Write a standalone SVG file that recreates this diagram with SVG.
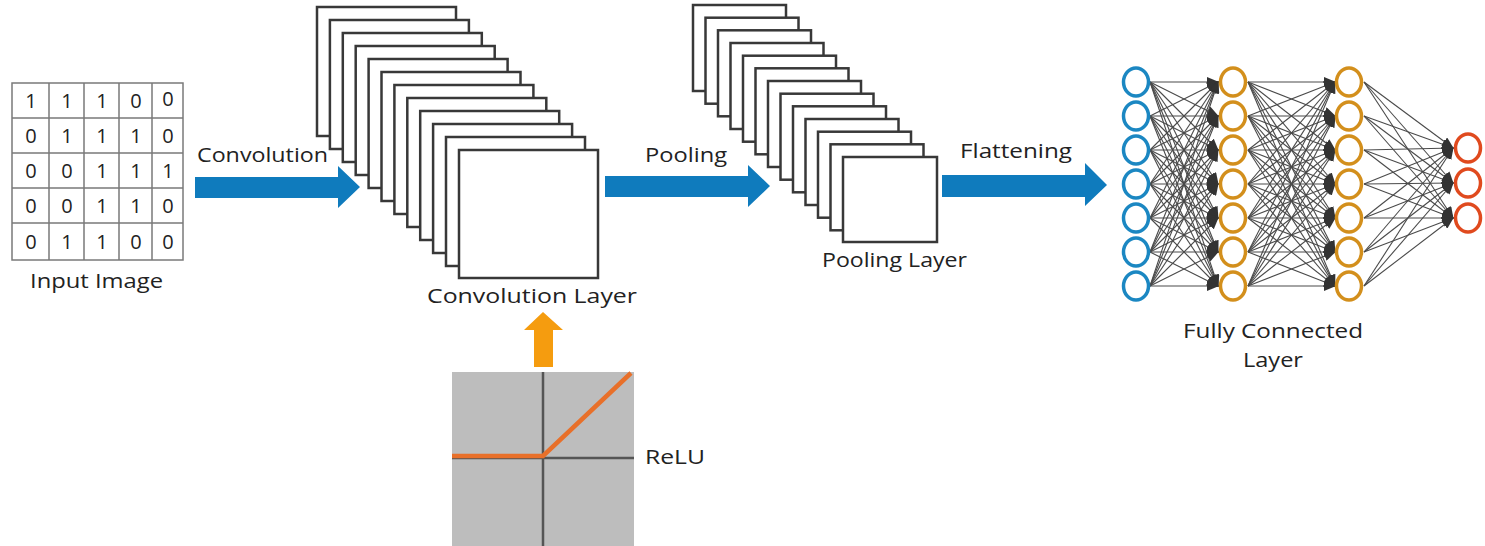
<svg xmlns="http://www.w3.org/2000/svg" width="1485" height="546" viewBox="0 0 1485 546">
<style>
text{font-family:"Open Sans","DejaVu Sans",sans-serif;font-size:20px;fill:#222;}
.d{text-anchor:middle;}
.grid{fill:none;stroke:#7a7a7a;stroke-width:1.5;}
.fm{fill:#fff;stroke:#383838;stroke-width:2.5;}
.blue{fill:#0f7bbd;}
.nb{fill:#fff;stroke:#1b87c2;stroke-width:3.5;}
.no{fill:#fff;stroke:#d38f1c;stroke-width:3.5;}
.nr{fill:#fff;stroke:#e04a1e;stroke-width:3.5;}
.ln{stroke:#4a4a4a;stroke-width:1.1;fill:none;marker-end:url(#ah);}
</style>
<defs>
<marker id="ah" markerUnits="userSpaceOnUse" markerWidth="12" markerHeight="10" refX="11" refY="5" orient="auto" viewBox="0 0 12 10">
<path d="M0,0 L12,5 L0,10 Z" fill="#333"/>
</marker>
</defs>
<rect width="1485" height="546" fill="#fff"/>

<g id="input-image">
<rect class="grid" x="12" y="83" width="171" height="177"/>
<path class="grid" d="M49,83V260M84,83V260M119,83V260M152,83V260M12,118H183M12,153H183M12,188H183M12,223H183"/>
<g class="d">
<text x="31" y="108">1</text><text x="67" y="108">1</text><text x="102" y="108">1</text><text x="136" y="108">0</text><text x="168" y="106">0</text>
<text x="31" y="143">0</text><text x="67" y="143">1</text><text x="102" y="143">1</text><text x="136" y="143">1</text><text x="168" y="143">0</text>
<text x="31" y="178">0</text><text x="67" y="178">0</text><text x="102" y="178">1</text><text x="136" y="178">1</text><text x="168" y="178">1</text>
<text x="31" y="213">0</text><text x="67" y="213">0</text><text x="102" y="213">1</text><text x="136" y="213">1</text><text x="168" y="213">0</text>
<text x="31" y="249">0</text><text x="67" y="249">1</text><text x="102" y="249">1</text><text x="136" y="249">0</text><text x="168" y="249">0</text>
</g>
<text x="30" y="288" textLength="133" lengthAdjust="spacingAndGlyphs">Input Image</text>
</g>

<g id="convolution-layer">
<rect class="fm" x="317" y="7" width="139" height="129"/>
<rect class="fm" x="329.9" y="20" width="139" height="129"/>
<rect class="fm" x="342.8" y="33" width="139" height="129"/>
<rect class="fm" x="355.7" y="46" width="139" height="129"/>
<rect class="fm" x="368.6" y="59" width="139" height="129"/>
<rect class="fm" x="381.5" y="72" width="139" height="129"/>
<rect class="fm" x="394.4" y="85" width="139" height="129"/>
<rect class="fm" x="407.3" y="98" width="139" height="129"/>
<rect class="fm" x="420.2" y="111" width="139" height="129"/>
<rect class="fm" x="433.1" y="124" width="139" height="129"/>
<rect class="fm" x="446" y="137" width="139" height="129"/>
<rect class="fm" x="459" y="150" width="139" height="128"/>
<text x="427" y="303" textLength="210" lengthAdjust="spacingAndGlyphs">Convolution Layer</text>
</g>

<g id="pooling-layer">
<rect class="fm" x="693" y="5" width="93" height="86"/>
<rect class="fm" x="705.5" y="17.7" width="93" height="86"/>
<rect class="fm" x="718" y="30.3" width="93" height="86"/>
<rect class="fm" x="730.5" y="43" width="93" height="86"/>
<rect class="fm" x="743" y="55.7" width="93" height="86"/>
<rect class="fm" x="755.5" y="68.3" width="93" height="86"/>
<rect class="fm" x="768" y="81" width="93" height="86"/>
<rect class="fm" x="780.5" y="93.7" width="93" height="86"/>
<rect class="fm" x="793" y="106.3" width="93" height="86"/>
<rect class="fm" x="805.5" y="119" width="93" height="86"/>
<rect class="fm" x="818" y="131.7" width="93" height="86"/>
<rect class="fm" x="830.5" y="144.3" width="93" height="86"/>
<rect class="fm" x="843" y="157" width="94" height="85"/>
<text x="822" y="267" textLength="145" lengthAdjust="spacingAndGlyphs">Pooling Layer</text>
</g>

<g id="relu">
<rect x="452" y="372" width="182" height="174" fill="#bdbdbd"/>
<path d="M543,372V546M452,458H634" stroke="#555" stroke-width="2.5" fill="none"/>
<polyline points="452,456 543,456 631,373" fill="none" stroke="#e8702a" stroke-width="4.5"/>
<text x="645" y="464" textLength="60" lengthAdjust="spacingAndGlyphs">ReLU</text>
</g>

<g id="connectors">
<polygon class="blue" points="195,177 338,177 338,166 360,187 338,208 338,198 195,198"/>
<polygon class="blue" points="605,176 748,176 748,165 770,186 748,207 748,197 605,197"/>
<polygon class="blue" points="942,175 1085,175 1085,163 1107,185 1085,206 1085,197 942,197"/>
<polygon points="534,367 534,330 524,330 543,312 563,330 553,330 553,367" fill="#f59c0f"/>
<g id="nn-edges">
<path class="ln" d="M1150,82L1218,82"/><path class="ln" d="M1150,82L1218,116"/><path class="ln" d="M1150,82L1218,150"/><path class="ln" d="M1150,82L1218,184"/><path class="ln" d="M1150,82L1218,218"/><path class="ln" d="M1150,82L1218,252"/><path class="ln" d="M1150,82L1218,286"/>
<path class="ln" d="M1150,116L1218,82"/><path class="ln" d="M1150,116L1218,116"/><path class="ln" d="M1150,116L1218,150"/><path class="ln" d="M1150,116L1218,184"/><path class="ln" d="M1150,116L1218,218"/><path class="ln" d="M1150,116L1218,252"/><path class="ln" d="M1150,116L1218,286"/>
<path class="ln" d="M1150,150L1218,82"/><path class="ln" d="M1150,150L1218,116"/><path class="ln" d="M1150,150L1218,150"/><path class="ln" d="M1150,150L1218,184"/><path class="ln" d="M1150,150L1218,218"/><path class="ln" d="M1150,150L1218,252"/><path class="ln" d="M1150,150L1218,286"/>
<path class="ln" d="M1150,184L1218,82"/><path class="ln" d="M1150,184L1218,116"/><path class="ln" d="M1150,184L1218,150"/><path class="ln" d="M1150,184L1218,184"/><path class="ln" d="M1150,184L1218,218"/><path class="ln" d="M1150,184L1218,252"/><path class="ln" d="M1150,184L1218,286"/>
<path class="ln" d="M1150,218L1218,82"/><path class="ln" d="M1150,218L1218,116"/><path class="ln" d="M1150,218L1218,150"/><path class="ln" d="M1150,218L1218,184"/><path class="ln" d="M1150,218L1218,218"/><path class="ln" d="M1150,218L1218,252"/><path class="ln" d="M1150,218L1218,286"/>
<path class="ln" d="M1150,252L1218,82"/><path class="ln" d="M1150,252L1218,116"/><path class="ln" d="M1150,252L1218,150"/><path class="ln" d="M1150,252L1218,184"/><path class="ln" d="M1150,252L1218,218"/><path class="ln" d="M1150,252L1218,252"/><path class="ln" d="M1150,252L1218,286"/>
<path class="ln" d="M1150,286L1218,82"/><path class="ln" d="M1150,286L1218,116"/><path class="ln" d="M1150,286L1218,150"/><path class="ln" d="M1150,286L1218,184"/><path class="ln" d="M1150,286L1218,218"/><path class="ln" d="M1150,286L1218,252"/><path class="ln" d="M1150,286L1218,286"/>
<path class="ln" d="M1248,82L1335,82"/><path class="ln" d="M1248,82L1335,116"/><path class="ln" d="M1248,82L1335,150"/><path class="ln" d="M1248,82L1335,184"/><path class="ln" d="M1248,82L1335,218"/><path class="ln" d="M1248,82L1335,252"/><path class="ln" d="M1248,82L1335,286"/>
<path class="ln" d="M1248,116L1335,82"/><path class="ln" d="M1248,116L1335,116"/><path class="ln" d="M1248,116L1335,150"/><path class="ln" d="M1248,116L1335,184"/><path class="ln" d="M1248,116L1335,218"/><path class="ln" d="M1248,116L1335,252"/><path class="ln" d="M1248,116L1335,286"/>
<path class="ln" d="M1248,150L1335,82"/><path class="ln" d="M1248,150L1335,116"/><path class="ln" d="M1248,150L1335,150"/><path class="ln" d="M1248,150L1335,184"/><path class="ln" d="M1248,150L1335,218"/><path class="ln" d="M1248,150L1335,252"/><path class="ln" d="M1248,150L1335,286"/>
<path class="ln" d="M1248,184L1335,82"/><path class="ln" d="M1248,184L1335,116"/><path class="ln" d="M1248,184L1335,150"/><path class="ln" d="M1248,184L1335,184"/><path class="ln" d="M1248,184L1335,218"/><path class="ln" d="M1248,184L1335,252"/><path class="ln" d="M1248,184L1335,286"/>
<path class="ln" d="M1248,218L1335,82"/><path class="ln" d="M1248,218L1335,116"/><path class="ln" d="M1248,218L1335,150"/><path class="ln" d="M1248,218L1335,184"/><path class="ln" d="M1248,218L1335,218"/><path class="ln" d="M1248,218L1335,252"/><path class="ln" d="M1248,218L1335,286"/>
<path class="ln" d="M1248,252L1335,82"/><path class="ln" d="M1248,252L1335,116"/><path class="ln" d="M1248,252L1335,150"/><path class="ln" d="M1248,252L1335,184"/><path class="ln" d="M1248,252L1335,218"/><path class="ln" d="M1248,252L1335,252"/><path class="ln" d="M1248,252L1335,286"/>
<path class="ln" d="M1248,286L1335,82"/><path class="ln" d="M1248,286L1335,116"/><path class="ln" d="M1248,286L1335,150"/><path class="ln" d="M1248,286L1335,184"/><path class="ln" d="M1248,286L1335,218"/><path class="ln" d="M1248,286L1335,252"/><path class="ln" d="M1248,286L1335,286"/>
<path class="ln" d="M1364,82L1453,148"/><path class="ln" d="M1364,82L1453,183"/><path class="ln" d="M1364,82L1453,218"/>
<path class="ln" d="M1364,116L1453,148"/><path class="ln" d="M1364,116L1453,183"/><path class="ln" d="M1364,116L1453,218"/>
<path class="ln" d="M1364,150L1453,148"/><path class="ln" d="M1364,150L1453,183"/><path class="ln" d="M1364,150L1453,218"/>
<path class="ln" d="M1364,184L1453,148"/><path class="ln" d="M1364,184L1453,183"/><path class="ln" d="M1364,184L1453,218"/>
<path class="ln" d="M1364,218L1453,148"/><path class="ln" d="M1364,218L1453,183"/><path class="ln" d="M1364,218L1453,218"/>
<path class="ln" d="M1364,252L1453,148"/><path class="ln" d="M1364,252L1453,183"/><path class="ln" d="M1364,252L1453,218"/>
<path class="ln" d="M1364,286L1453,148"/><path class="ln" d="M1364,286L1453,183"/><path class="ln" d="M1364,286L1453,218"/>
</g>
</g>

<g id="labels">
<text x="197" y="162" textLength="131" lengthAdjust="spacingAndGlyphs">Convolution</text>
<text x="645" y="162" textLength="82" lengthAdjust="spacingAndGlyphs">Pooling</text>
<text x="960" y="158" textLength="112" lengthAdjust="spacingAndGlyphs">Flattening</text>
</g>

<g id="fc-input-layer">
<ellipse class="nb" cx="1136" cy="82" rx="12.5" ry="14"/><ellipse class="nb" cx="1136" cy="116" rx="12.5" ry="14"/><ellipse class="nb" cx="1136" cy="150" rx="12.5" ry="14"/><ellipse class="nb" cx="1136" cy="184" rx="12.5" ry="14"/><ellipse class="nb" cx="1136" cy="218" rx="12.5" ry="14"/><ellipse class="nb" cx="1136" cy="252" rx="12.5" ry="14"/><ellipse class="nb" cx="1136" cy="286" rx="12.5" ry="14"/>
</g>
<g id="fc-hidden-layer-1">
<ellipse class="no" cx="1233" cy="82" rx="12.5" ry="14"/><ellipse class="no" cx="1233" cy="116" rx="12.5" ry="14"/><ellipse class="no" cx="1233" cy="150" rx="12.5" ry="14"/><ellipse class="no" cx="1233" cy="184" rx="12.5" ry="14"/><ellipse class="no" cx="1233" cy="218" rx="12.5" ry="14"/><ellipse class="no" cx="1233" cy="252" rx="12.5" ry="14"/><ellipse class="no" cx="1233" cy="286" rx="12.5" ry="14"/>
</g>
<g id="fc-hidden-layer-2">
<ellipse class="no" cx="1349" cy="82" rx="12.5" ry="14"/><ellipse class="no" cx="1349" cy="116" rx="12.5" ry="14"/><ellipse class="no" cx="1349" cy="150" rx="12.5" ry="14"/><ellipse class="no" cx="1349" cy="184" rx="12.5" ry="14"/><ellipse class="no" cx="1349" cy="218" rx="12.5" ry="14"/><ellipse class="no" cx="1349" cy="252" rx="12.5" ry="14"/><ellipse class="no" cx="1349" cy="286" rx="12.5" ry="14"/>
</g>
<g id="fc-output-layer">
<ellipse class="nr" cx="1468" cy="148" rx="12.5" ry="14"/><ellipse class="nr" cx="1468" cy="183" rx="12.5" ry="14"/><ellipse class="nr" cx="1468" cy="218" rx="12.5" ry="14"/>
</g>
<g id="fc-label">
<text x="1183" y="338" textLength="180" lengthAdjust="spacingAndGlyphs">Fully Connected</text>
<text x="1243" y="367" textLength="60" lengthAdjust="spacingAndGlyphs">Layer</text>
</g>
</svg>
